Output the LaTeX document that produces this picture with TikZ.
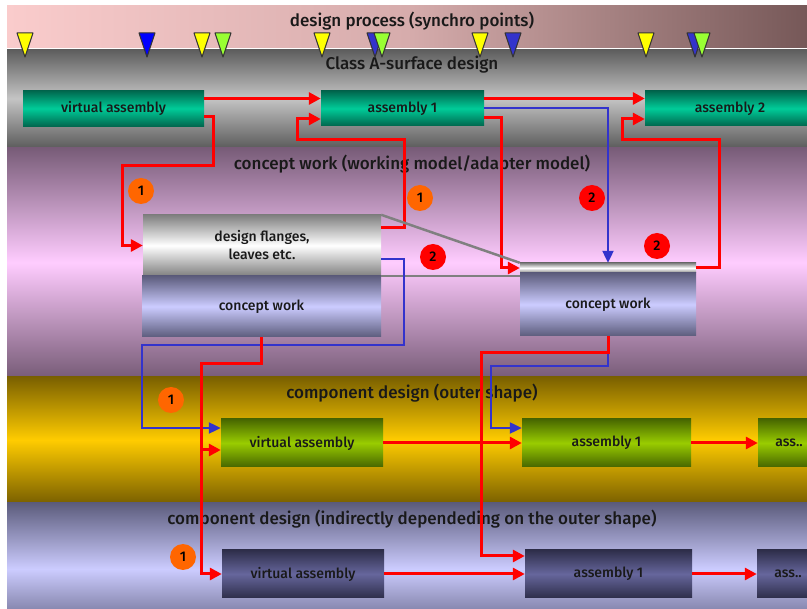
\documentclass[tikz,border=0pt]{standalone}
\usepackage{fontspec}
\setmainfont{Fira Sans}[UprightFont={* Medium}]
\usepackage{tikz}
\usetikzlibrary{arrows.meta}

\definecolor{pinkL}{HTML}{FACCCC}
\definecolor{pinkM}{HTML}{D6ACAC}
\definecolor{pinkR}{HTML}{765858}
\definecolor{grayD}{HTML}{5C5C5C}
\definecolor{grayL}{HTML}{C4C4C4}
\definecolor{mauveD}{HTML}{785C78}
\definecolor{mauveL}{HTML}{FFCCFF}
\definecolor{goldD}{HTML}{7A6000}
\definecolor{goldL}{HTML}{FFCC00}
\definecolor{lilacD}{HTML}{5C5C7C}
\definecolor{lilacL}{HTML}{CCCCFF}
\definecolor{tealD}{HTML}{00664D}
\definecolor{tealL}{HTML}{00CC99}
\definecolor{limeD}{HTML}{476600}
\definecolor{limeL}{HTML}{99CC00}
\definecolor{navyD}{HTML}{2E2E4A}
\definecolor{navyL}{HTML}{66669C}
\definecolor{flowred}{HTML}{FF0000}
\definecolor{flowblue}{HTML}{3333CC}
\definecolor{dotorange}{HTML}{FF6600}
\definecolor{syncyellow}{HTML}{FFFF00}
\definecolor{syncblue}{HTML}{0000FF}
\definecolor{syncblueB}{HTML}{3333CC}
\definecolor{syncgreen}{HTML}{99FF33}

\begin{document}
\begin{tikzpicture}[x=1pt,y=-1pt,
  bandtitle/.style={font=\fontsize{17}{20}\selectfont, text=black!90, inner sep=0pt},
  boxtext/.style={inner sep=0pt, font=\fontsize{14}{18}\selectfont, text=black!90, align=center},
  tealbox/.style={boxtext, top color=tealD, bottom color=tealD, middle color=tealL},
  limebox/.style={boxtext, top color=limeD, bottom color=limeD, middle color=limeL},
  navybox/.style={boxtext, top color=navyD, bottom color=navyD, middle color=navyL},
  lilacbox/.style={boxtext, top color=lilacD, bottom color=lilacD, middle color=lilacL},
  silverbox/.style={boxtext, top color=gray, bottom color=gray, middle color=white},
  redline/.style={draw=flowred, line width=3pt, -{Triangle[length=12pt,width=12pt]}},
  blueline/.style={draw=flowblue, line width=2.2pt, -{Triangle[length=12pt,width=11pt]}},
  greyline/.style={draw=gray, line width=2.5pt},
  onedot/.style={circle, fill=dotorange, minimum size=26pt, inner sep=0pt, font=\fontsize{14}{16}\selectfont},
  twodot/.style={onedot, fill=flowred},
  sync/.style={draw=black!80, line width=1pt, line join=round}]
\useasboundingbox(0,0) rectangle (807,609);
\fill[white](0,0) rectangle (807,609);
\shade[left color=pinkL, right color=pinkR, middle color=pinkM](7,6) rectangle (807,49);
\shade[top color=grayD, bottom color=grayD, middle color=grayL](7,49) rectangle (807,148);
\shade[top color=mauveD, bottom color=mauveD, middle color=mauveL](7,148) rectangle (807,377);
\shade[top color=goldD, bottom color=goldD, middle color=goldL](7,377) rectangle (807,503);
\shade[top color=lilacD, bottom color=lilacD, middle color=lilacL](7,503) rectangle (807,635);
\draw[white, line width=1pt](7,49) -- (807,49);

\node[bandtitle] (tsync) at (412,21) {design process (synchro points)};
\node[bandtitle] (tclass) at (412,65) {Class A-surface design};
\node[bandtitle] (tconcept) at (412,164) {concept work (working model/adapter model)};
\node[bandtitle] (touter) at (412,393) {component design (outer shape)};
\node[bandtitle] (tindirect) at (412,519) {component design (indirectly dependeding on the outer shape)};

\node[tealbox, minimum width=181, minimum height=36] (va1) at (113.5,108.5) {virtual assembly};
\node[tealbox, minimum width=163, minimum height=35] (ax1) at (402.5,108.5) {assembly 1};
\node[tealbox, minimum width=170, minimum height=35] (ax2) at (730,108.5) {assembly 2};
\node[silverbox, minimum width=238, minimum height=61] (flanges) at (262,245.5) {design flanges,\\leaves etc.};
\node[lilacbox, minimum width=239, minimum height=61] (cwl) at (261.5,306.5) {concept work};
\node[silverbox, minimum width=176, minimum height=10] (cwrtop) at (608,268) {};
\node[lilacbox, minimum width=176, minimum height=63] (cwr) at (608,304.5) {concept work};
\node[limebox, minimum width=162, minimum height=48] (vay) at (302,443) {virtual assembly};
\node[limebox, minimum width=169, minimum height=48] (a1y) at (606.5,443) {assembly 1};
\node[limebox, minimum width=62, minimum height=48] (ay) at (789,443) {ass..};
\node[navybox, minimum width=162, minimum height=48] (val) at (303,574) {virtual assembly};
\node[navybox, minimum width=167, minimum height=48] (a1l) at (608.5,574) {assembly 1};
\node[navybox, minimum width=62, minimum height=48] (al) at (788,574) {ass..};

\draw[redline]([yshift=10]va1.east) -- ([yshift=10]ax1.west);
\draw[redline]([yshift=10]ax1.east) -- ([yshift=10]ax2.west);
\draw[redline]([yshift=-8]va1.east) -- (213,116.5) -- (213,166) -- (122,166) |- (flanges.west);
\draw[redline]([yshift=17.5]flanges.east) -- (404,228) -- (404,140) -- (297,140) |- ([yshift=-10.5]ax1.west);
\draw[redline]([yshift=-9.5]ax1.east) -- (501,118) |- (cwrtop.west);
\draw[blueline]([yshift=.5]ax1.east) -| (cwrtop.north);
\draw[redline](cwrtop.east) -- (719,268) -- (719,140) -- (622,140) |- ([yshift=-10.5]ax2.west);
\draw[greyline](flanges.north east) -- (cwrtop.north west);
\draw[greyline](flanges.south east) -- (flanges.south east -| cwrtop.west);
\draw[blueline]([yshift=-13.5]flanges.east) -- (404,259) -- (404,345) -- (142,345) |- ([yshift=15]vay.west);
\draw[redline](cwl.south) |- (201,364) |- (val.west);
\coordinate (split) at (201,450);
\draw[redline](split) -- ([yshift=-7]vay.west);
\draw[redline](vay.east) -- (a1y.west);
\draw[blueline](cwr.south) -- (608,366) -- (491,366) |- ([yshift=15]a1y.west);
\draw[redline](cwr.south) -- (608,353) -- (481,353) |- ([yshift=18]a1l.west);
\draw[redline](a1y.east) -- (ay.west);
\draw[redline](val.east) -- (a1l.west);
\draw[redline](a1l.east) -- (al.west);

\node[onedot] (n1a) at (141,191) {1};
\node[onedot] (n1b) at (420,198) {1};
\node[twodot] (n2a) at (433,257) {2};
\node[twodot] (n2b) at (592,198) {2};
\node[twodot] (n2c) at (657,246) {2};
\node[onedot] (n1c) at (171,400) {1};
\node[onedot] (n1d) at (183,557) {1};

\draw[sync, fill=syncyellow](17,33) -- (33,33) -- (25,57) -- cycle;
\draw[sync, fill=syncblue](139,33) -- (155,33) -- (147,57) -- cycle;
\draw[sync, fill=syncyellow](194,33) -- (210,33) -- (202,57) -- cycle;
\draw[sync, fill=syncgreen](215,33) -- (231,33) -- (223,57) -- cycle;
\draw[sync, fill=syncyellow](314,33) -- (330,33) -- (322,57) -- cycle;
\draw[sync, fill=syncblueB](367,33) -- (383,33) -- (375,57) -- cycle;
\draw[sync, fill=syncgreen](374,33) -- (390,33) -- (382,57) -- cycle;
\draw[sync, fill=syncyellow](472,33) -- (488,33) -- (480,57) -- cycle;
\draw[sync, fill=syncblueB](505,33) -- (521,33) -- (513,57) -- cycle;
\draw[sync, fill=syncyellow](638,33) -- (654,33) -- (646,57) -- cycle;
\draw[sync, fill=syncblueB](687,33) -- (703,33) -- (695,57) -- cycle;
\draw[sync, fill=syncgreen](694,33) -- (710,33) -- (702,57) -- cycle;
\end{tikzpicture}
\end{document}
